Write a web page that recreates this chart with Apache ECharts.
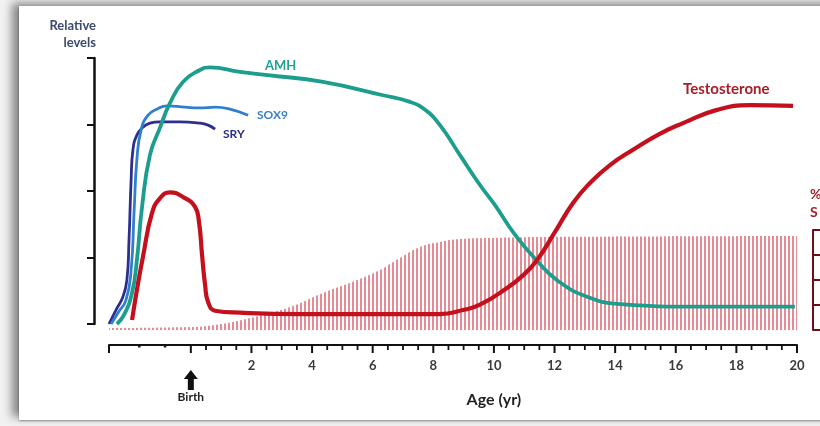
<!DOCTYPE html>
<html>
<head>
<meta charset="utf-8">
<script src="https://cdn.jsdelivr.net/npm/echarts@6/dist/echarts.min.js"></script>
<style>
  html, body { margin: 0; padding: 0; background: #ffffff; }
  #wrap { position: relative; width: 820px; height: 426px; overflow: hidden; background: #f2f2f2; }
  #card { position: absolute; left: 19px; top: 6px; width: 830px; height: 414px; background: #ffffff;
          box-shadow: -7px -3px 9px rgba(0,0,0,0.45), 0 1px 2px rgba(0,0,0,0.35); }
  #chart { position: absolute; left: 0; top: 0; width: 820px; height: 426px; }
</style>
</head>
<body>
<div id="wrap"><div id="card"></div><div id="chart"></div></div>
<script>
// ---- Data (x = age in years, birth = 0; prenatal period compressed to negative values) ----
const xMin = -2.7, xMax = 20;
const majorTicks = [-2.7, 0, 2, 4, 6, 8, 10, 12, 14, 16, 18, 20];
const tickLabels = [2, 4, 6, 8, 10, 12, 14, 16, 18, 20];
const minorTicks = [0.5, 1, 1.5, 2.5, 3, 3.5, 4.5, 5, 5.5, 6.5, 7, 7.5, 8.5, 9, 9.5, 10.5, 11, 11.5,
                    12.5, 13, 13.5, 14.5, 15, 15.5, 16.5, 17, 17.5, 18.5, 19, 19.5];
const prenatalDots = [-1.7, -0.85];

const sryData = [[-2.70,0],[-2.47,0.21],[-2.24,0.41],[-2.11,0.66],[-2.04,1.26],[-1.97,2.17],[-1.91,2.62],
  [-1.78,2.84],[-1.58,2.96],[-1.35,3.02],[-1.02,3.04],[-0.36,3.04],[0.30,3.02],[0.57,2.99],[0.80,2.93]];
const sox9Data = [[-2.63,0],[-2.40,0.17],[-2.14,0.36],[-1.97,0.81],[-1.87,1.71],[-1.78,2.47],[-1.64,2.92],
  [-1.41,3.14],[-1.12,3.23],[-0.79,3.28],[-0.19,3.26],[0.30,3.25],[0.80,3.26],[1.29,3.23],[1.89,3.14]];
const amhData = [[-2.44,0],[-2.20,0.14],[-1.94,0.47],[-1.78,0.96],[-1.61,1.76],[-1.35,2.54],[-1.02,2.95],
  [-0.69,3.32],[-0.26,3.64],[0.30,3.82],[0.63,3.86],[1.62,3.79],[2.61,3.74],[4.36,3.64],[6.34,3.44],
  [7.23,3.34],[7.73,3.22],[8.22,2.99],[8.88,2.54],[9.54,2.09],[10.03,1.79],[10.70,1.34],[11.42,0.95],
  [12.08,0.66],[13.07,0.41],[14.16,0.30],[16.80,0.26],[19.93,0.26]];
const testoData = [[-1.94,0.06],[-1.78,0.51],[-1.58,1.01],[-1.28,1.67],[-1.02,1.89],[-0.69,1.98],[-0.26,1.91],
  [0.14,1.76],[0.27,1.53],[0.37,1.04],[0.47,0.59],[0.57,0.33],[0.80,0.20],[1.62,0.17],[3.60,0.15],
  [6.24,0.15],[8.22,0.15],[8.98,0.21],[9.54,0.29],[10.43,0.54],[10.93,0.72],[11.42,0.96],[12.01,1.38],
  [12.61,1.82],[13.17,2.12],[13.83,2.39],[14.59,2.62],[15.47,2.86],[16.24,3.02],[17.36,3.22],
  [18.45,3.29],[19.87,3.28]];
// hatched area on the right (%) axis, 0-100
const hatchData = [[-2.7,2],[-0.03,3],[0.80,5],[1.95,12],[3.27,23],[4.36,37],[5.48,50],[6.24,60],[6.57,66],
  [6.90,72],[7.56,83],[8.22,88],[8.88,91],[9.87,92],[11.52,93],[20,94]];

const FONT = 'Lato, "Open Sans", sans-serif';

const pc = document.createElement('canvas');
pc.width = 4; pc.height = 4;
const pctx = pc.getContext('2d');
pctx.fillStyle = '#e78a94';
pctx.fillRect(0, 0, 2, 4);

const chart = echarts.init(document.getElementById('chart'), null, { renderer: 'canvas' });

// tick marks drawn through the x scale by a custom series (value = x position, kind = tick length class)
const tickRows = []
  .concat(majorTicks.map(v => [v, 8, 2]))
  .concat(minorTicks.map(v => [v, 5, 1.8]))
  .concat(prenatalDots.map(v => [v, 2.5, 2.5]));

const option = {
  backgroundColor: 'transparent',
  animation: false,
  grid: [
    { left: 109, right: 23, top: 58, bottom: 102 },
    { left: 109, right: 23, top: 230, bottom: 96 }
  ],
  xAxis: [
    { gridIndex: 0, type: 'value', min: xMin, max: xMax, position: 'bottom', offset: 21,
      axisLine: { show: true, onZero: false, lineStyle: { color: '#111', width: 2 } },
      axisTick: { show: false },
      axisLabel: { show: true, customValues: tickLabels, margin: 14, color: '#3a3a3a',
                   fontFamily: FONT, fontWeight: 'bold', fontSize: 13 },
      splitLine: { show: false } },
    { gridIndex: 1, type: 'value', min: xMin, max: xMax, show: false }
  ],
  yAxis: [
    { gridIndex: 0, type: 'value', min: 0, max: 4, interval: 1, position: 'left', offset: 15,
      axisLine: { show: true, onZero: false, lineStyle: { color: '#111', width: 2.5 } },
      axisTick: { show: true, length: 7, lineStyle: { color: '#111', width: 2 } },
      axisLabel: { show: false }, splitLine: { show: false } },
    { gridIndex: 1, type: 'value', min: 0, max: 100, interval: 25, position: 'right', offset: 16,
      axisLine: { show: true, onZero: false, lineStyle: { color: '#6e0e16', width: 2 } },
      axisTick: { show: true, length: 8, lineStyle: { color: '#6e0e16', width: 2 } },
      axisLabel: { show: false }, splitLine: { show: false } }
  ],
  series: [
    { name: 'Hatch', type: 'line', xAxisIndex: 1, yAxisIndex: 1, data: hatchData, smooth: 0.5,
      symbol: 'none', lineStyle: { width: 0, opacity: 0 }, z: 1,
      areaStyle: { color: { image: pc, repeat: 'repeat' }, opacity: 1 } },
    { name: 'SRY', type: 'line', xAxisIndex: 0, yAxisIndex: 0, data: sryData, smooth: 0.5,
      symbol: 'none', z: 3, lineStyle: { color: '#2d2f8c', width: 2.8 } },
    { name: 'SOX9', type: 'line', xAxisIndex: 0, yAxisIndex: 0, data: sox9Data, smooth: 0.5,
      symbol: 'none', z: 4, lineStyle: { color: '#2f7fcf', width: 2.8 } },
    { name: 'AMH', type: 'line', xAxisIndex: 0, yAxisIndex: 0, data: amhData, smooth: 0.5,
      symbol: 'none', z: 5, lineStyle: { color: '#1c9d8e', width: 3.8 } },
    { name: 'Testosterone', type: 'line', xAxisIndex: 0, yAxisIndex: 0, data: testoData, smooth: 0.5,
      symbol: 'none', z: 6, lineStyle: { color: '#c4101c', width: 4.2 } },
    { name: 'Ticks', type: 'custom', xAxisIndex: 0, yAxisIndex: 0, data: tickRows, clip: false, z: 10,
      silent: true,
      renderItem: function (params, api) {
        const p = api.coord([api.value(0), 0]);
        const y0 = p[1] + 21;
        return { type: 'line', shape: { x1: p[0], y1: y0, x2: p[0], y2: y0 + api.value(1) },
                 style: { stroke: '#111', lineWidth: api.value(2) } };
      } }
  ]
};
chart.setOption(option);

const bx = chart.convertToPixel({ xAxisIndex: 0 }, 0);
const ax = chart.convertToPixel({ xAxisIndex: 0 }, 10);

function txt(x, y, text, color, size, align) {
  return { type: 'text', x: x, y: y, z: 100,
    style: { text: text, fill: color, font: 'bold ' + size + 'px ' + FONT,
             align: align || 'left', verticalAlign: 'middle' } };
}

chart.setOption({
  graphic: [
    txt(96, 26, 'Relative', '#3c4a6e', 13, 'right'),
    txt(96, 43, 'levels', '#3c4a6e', 13, 'right'),
    txt(265, 66, 'AMH', '#22a092', 13),
    txt(257, 115, 'SOX9', '#3a80c4', 12),
    txt(223, 134, 'SRY', '#2c2f80', 12),
    txt(683, 89, 'Testosterone', '#a81e2a', 15),
    txt(810, 194, '%', '#a81e2a', 14),
    txt(810, 212, 'S', '#a81e2a', 14),
    { type: 'polygon', z: 100,
      shape: { points: [[bx, 370], [bx - 7, 379], [bx - 3, 379], [bx - 3, 390], [bx + 3, 390], [bx + 3, 379], [bx + 7, 379]] },
      style: { fill: '#111' } },
    txt(bx, 397, 'Birth', '#222', 12, 'center'),
    txt(ax, 400, 'Age (yr)', '#222', 16, 'center')
  ]
});
</script>
</body>
</html>
